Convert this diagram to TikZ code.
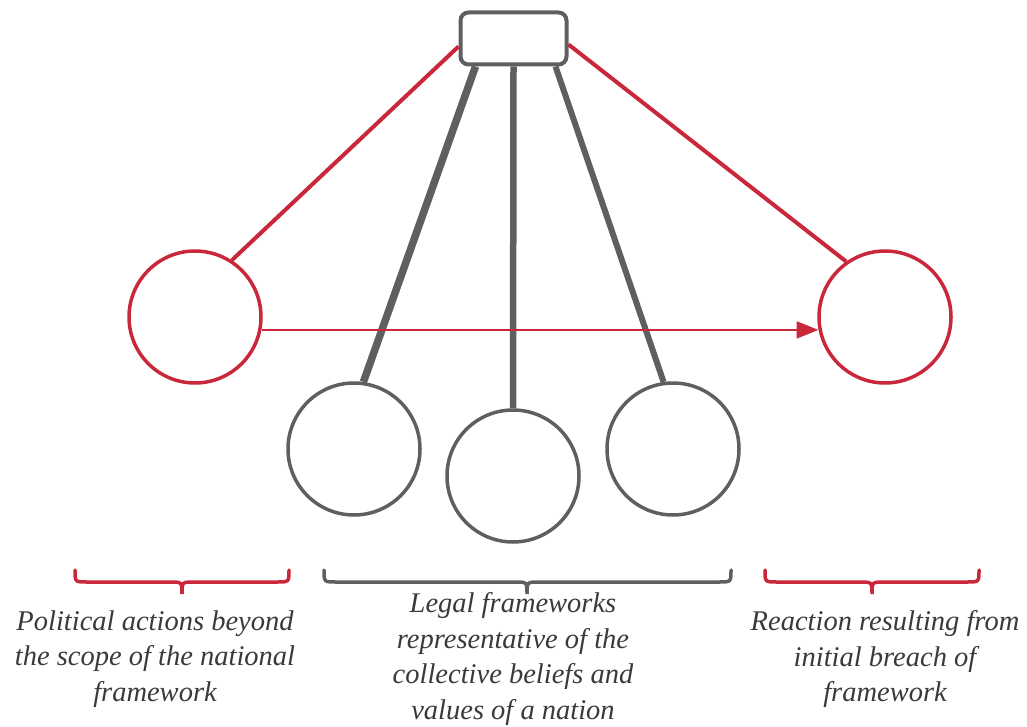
\documentclass[tikz,border=0pt]{standalone}
\usepackage{fontspec}
\setmainfont{Liberation Serif}
\usetikzlibrary{arrows.meta,calc}
\definecolor{cred}{HTML}{C9283A}
\definecolor{cgray}{HTML}{5F5F5F}
\definecolor{ctext}{HTML}{3A3A3A}
\begin{document}
\begin{tikzpicture}[x=1pt,y=-1pt,
  redc/.style={circle,draw=cred,line width=3.5pt,minimum size=132pt,inner sep=0pt},
  grayc/.style={circle,draw=cgray,line width=3.5pt,minimum size=132pt,inner sep=0pt},
  redline/.style={draw=cred,line width=4pt},
  grayline/.style={draw=cgray,line width=6.5pt},
  bracered/.style={draw=cred,line width=3.5pt,line cap=round},
  bracegray/.style={draw=cgray,line width=3.5pt,line cap=round},
  lbl/.style={text=ctext,font=\fontsize{28.5}{35.5}\selectfont\itshape,align=center,inner sep=0pt}]
\useasboundingbox (0,0) rectangle (1027,727);
\node[draw=cgray,line width=4pt,rounded corners=8pt,minimum width=106pt,minimum height=52pt,inner sep=0pt] (top) at (513.5,38.5) {};
\node[redc] (lc) at (195,317) {};
\node[redc] (rc) at (885,317) {};
\node[grayc] (g1) at (354,449) {};
\node[grayc] (g2) at (513,476) {};
\node[grayc] (g3) at (673,449) {};
% red lines
\draw[redline] ([yshift=-8pt]top.west) -- (lc.57);
\draw[redline] ([yshift=-6pt]top.east) -- (rc.125);
% gray lines
\draw[grayline,line width=7.5pt] ([xshift=-38pt]top.south) -- (g1.82);
\draw[grayline] (top.south) -- (g2.90);
\draw[grayline,line width=6pt] ([xshift=42pt]top.south) -- (g3.98);
% arrow
\draw[draw=cred,line width=2.2pt,-{Triangle[length=22pt,width=17pt]}] (lc.-11) -- (rc.191);
% braces
\draw[bracered] (75,570) .. controls (75,582) .. (87,582) -- (170,582) .. controls (182,582) .. (182,594) .. controls (182,582) .. (194,582) -- (277,582) .. controls (289,582) .. (289,570);
\draw[bracegray] (324,570) .. controls (324,582) .. (336,582) -- (515,582) .. controls (527,582) .. (527,594) .. controls (527,582) .. (539,582) -- (719,582) .. controls (731,582) .. (731,570);
\draw[bracered] (765,570) .. controls (765,582) .. (777,582) -- (860,582) .. controls (872,582) .. (872,594) .. controls (872,582) .. (884,582) -- (967,582) .. controls (979,582) .. (979,570);
% labels
\node[lbl] (t1) at (155,659) {Political actions beyond\\the scope of the national\\framework};
\node[lbl] (t2) at (513,659) {Legal frameworks\\representative of the\\collective beliefs and\\values of a nation};
\node[lbl] (t3) at (885,659) {Reaction resulting from\\initial breach of\\framework};
\end{tikzpicture}
\end{document}
